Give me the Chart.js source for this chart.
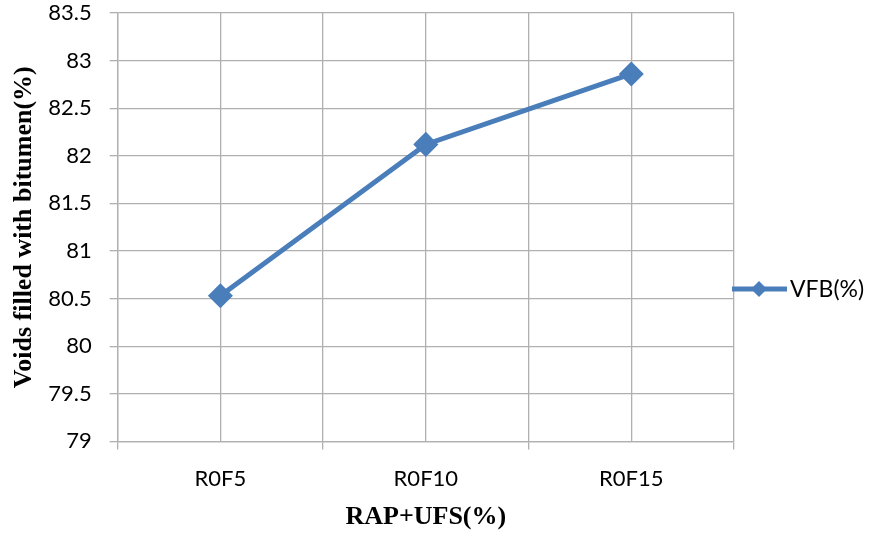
<!DOCTYPE html>
<html>
<head>
<meta charset="utf-8">
<script src="https://cdn.jsdelivr.net/npm/chart.js@4.4.0/dist/chart.umd.min.js"></script>
<style>
  html, body { margin: 0; padding: 0; background: #fff; }
  #wrap { width: 871px; height: 533px; }
</style>
</head>
<body>
<div id="wrap"><canvas id="chart"></canvas></div>
<script>
// Data
const categories = ['R0F5', 'R0F10', 'R0F15'];
const vfbValues = [80.53, 82.12, 82.86];
const seriesLabel = 'VFB(%)';
const yMin = 79, yMax = 83.5, yStep = 0.5;

const blue = '#4a7ebb';
const gridGray = '#b0b0b0';

// legend drawn by hand: line with a diamond, right of the plot
const sideLegend = {
  id: 'sideLegend',
  afterDraw(chart) {
    const ctx = chart.ctx;
    const ds = chart.data.datasets[0];
    const y = 289, x0 = 732, x1 = 787, xm = 759, r = 8;
    ctx.save();
    ctx.strokeStyle = ds.borderColor;
    ctx.lineWidth = 5;
    ctx.beginPath(); ctx.moveTo(x0, y); ctx.lineTo(x1, y); ctx.stroke();
    ctx.fillStyle = ds.borderColor;
    ctx.beginPath();
    ctx.moveTo(xm, y - r); ctx.lineTo(xm + r, y); ctx.lineTo(xm, y + r); ctx.lineTo(xm - r, y);
    ctx.closePath(); ctx.fill();
    ctx.fillStyle = '#000';
    ctx.font = '23px Lato';
    ctx.textBaseline = 'middle';
    ctx.fillText(ds.label, 790, y + 1);
    ctx.restore();
  }
};

new Chart(document.getElementById('chart'), {
  type: 'line',
  data: {
    datasets: [{
      label: seriesLabel,
      data: categories.map((c, i) => ({ x: i, y: vfbValues[i] })),
      borderColor: blue,
      backgroundColor: blue,
      borderWidth: 5,
      pointStyle: 'rectRot',
      pointRadius: 9,
      pointHoverRadius: 9,
      tension: 0
    }]
  },
  options: {
    responsive: true,
    maintainAspectRatio: false,
    animation: false,
    layout: { autoPadding: false, padding: { left: 5, right: 137, top: 3, bottom: 0 } },
    plugins: {
      legend: { display: false },
      tooltip: { enabled: false }
    },
    scales: {
      x: {
        type: 'linear',
        min: -0.5,
        max: 2.5,
        ticks: {
          stepSize: 0.5,
          autoSkip: false,
          maxRotation: 0,
          padding: 16,
          color: '#000',
          font: { family: 'Lato', size: 22 },
          callback: v => Number.isInteger(v) ? categories[v] : ''
        },
        grid: {
          color: gridGray,
          lineWidth: 1.3,
          tickLength: 8,
          tickColor: ctx => Number.isInteger(ctx.tick && ctx.tick.value) ? 'rgba(0,0,0,0)' : gridGray
        },
        border: { color: gridGray, width: 1.3 },
        title: {
          display: true,
          text: 'RAP+UFS(%)',
          color: '#000',
          font: { family: 'Liberation Serif', size: 26, weight: 'bold' },
          padding: { top: -6, bottom: 0 }
        }
      },
      y: {
        min: yMin,
        max: yMax,
        afterFit: s => { s.paddingTop = 13; s.paddingBottom = 13; },
        ticks: {
          stepSize: yStep,
          padding: 18,
          color: '#000',
          font: { family: 'Lato', size: 22 },
          callback: v => String(v)
        },
        grid: { color: gridGray, lineWidth: 1.3, tickLength: 8 },
        border: { color: gridGray, width: 1.3 },
        title: {
          display: true,
          text: 'Voids filled with bitumen(%)',
          color: '#000',
          font: { family: 'Liberation Serif', size: 26, weight: 'bold' },
          padding: { top: 4, bottom: -10 }
        }
      }
    }
  },
  plugins: [sideLegend]
});
</script>
</body>
</html>
